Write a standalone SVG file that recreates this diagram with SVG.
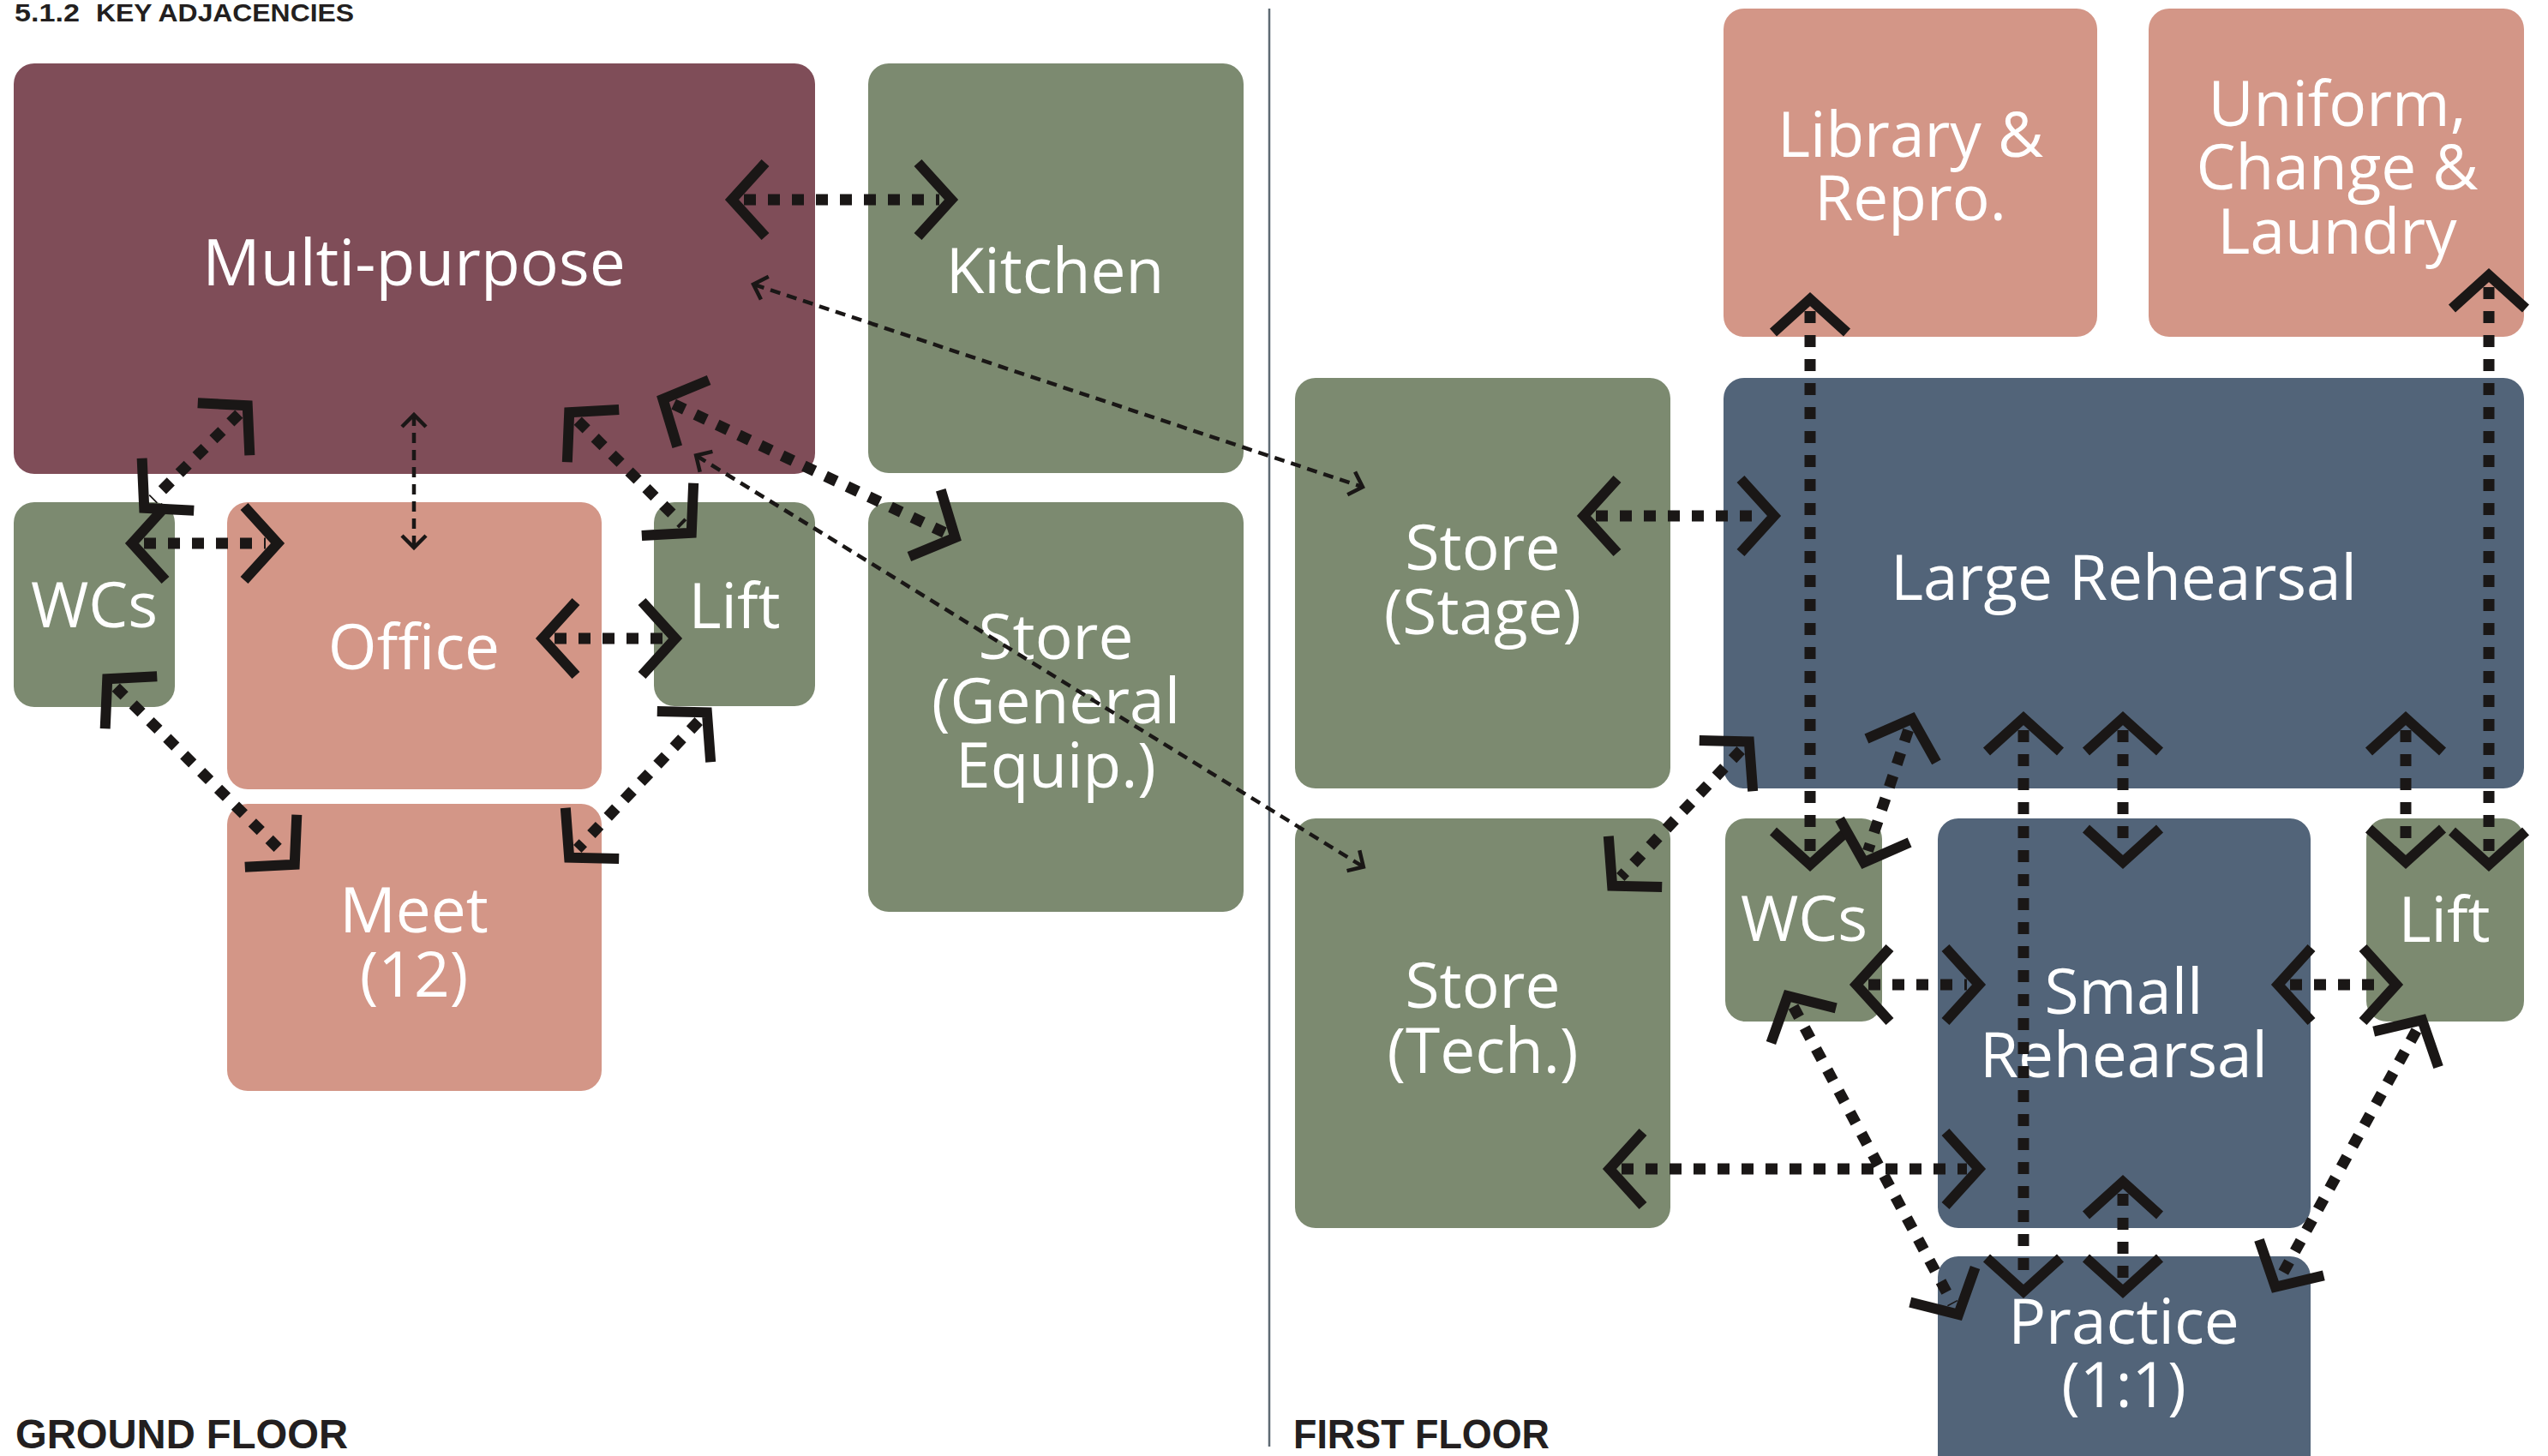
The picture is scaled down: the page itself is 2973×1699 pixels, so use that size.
<svg xmlns="http://www.w3.org/2000/svg" width="2973" height="1699" viewBox="0 0 2973 1699">
<style>
.bg{fill:#ffffff}
.maroon{fill:#7f4d58}
.green{fill:#7c8a70}
.pink{fill:#d39687}
.blue{fill:#526479}
.lbl{font-family:"Open Sans","Liberation Sans",sans-serif;font-size:73px;fill:#ffffff;text-anchor:middle}
.big{font-size:75px}
.hdr{font-family:"Liberation Sans",Arial,sans-serif;font-weight:700;fill:#231f20}
.thick{fill:none;stroke:#1a1716;stroke-width:13;stroke-dasharray:14 14;marker-start:url(#chev);marker-end:url(#chev)}
.thin{fill:none;stroke:#1a1716;stroke-width:4.5;stroke-dasharray:12 8;marker-start:url(#chevThin);marker-end:url(#chevThin)}
</style>
<defs>
<marker id="chev" viewBox="-70 -70 140 140" markerWidth="140" markerHeight="140" refX="0" refY="0" orient="auto-start-reverse" markerUnits="userSpaceOnUse">
<path d="M -25 -43 L 14 0 L -25 43" fill="none" stroke="#1a1716" stroke-width="12" stroke-miterlimit="10"/>
</marker>
<marker id="chevThin" viewBox="-30 -30 60 60" markerWidth="60" markerHeight="60" refX="0" refY="0" orient="auto-start-reverse" markerUnits="userSpaceOnUse">
<path d="M -13 -14 L 1 0 L -13 14" fill="none" stroke="#1a1716" stroke-width="4.5" stroke-miterlimit="10"/>
</marker>
</defs>
<rect class="bg" x="0" y="0" width="2973" height="1699"/>
<text class="hdr" y="25" font-size="30"><tspan x="17" textLength="76" lengthAdjust="spacingAndGlyphs">5.1.2</tspan><tspan x="112" textLength="301" lengthAdjust="spacingAndGlyphs">KEY ADJACENCIES</tspan></text>
<line x1="1481" y1="10" x2="1481" y2="1688" stroke="#5e6a73" stroke-width="2.5"/>
<text class="hdr" x="18" y="1690" font-size="48" textLength="388" lengthAdjust="spacingAndGlyphs">GROUND FLOOR</text>
<text class="hdr" x="1509" y="1690" font-size="48" textLength="299" lengthAdjust="spacingAndGlyphs">FIRST FLOOR</text>

<g id="gf-multipurpose"><rect class="maroon" x="16" y="74" width="935" height="479" rx="24"/><text class="lbl big" x="483" y="333">Multi-purpose</text></g>
<g id="gf-kitchen"><rect class="green" x="1013" y="74" width="438" height="478" rx="24"/><text class="lbl" x="1231" y="342">Kitchen</text></g>
<g id="gf-store-general"><rect class="green" x="1013" y="586" width="438" height="478" rx="24"/><text class="lbl" x="1232" y="769"><tspan x="1232">Store</tspan><tspan x="1232" dy="75">(General</tspan><tspan x="1232" dy="75">Equip.)</tspan></text></g>
<g id="gf-wcs"><rect class="green" x="16" y="586" width="188" height="239" rx="24"/><text class="lbl" x="110" y="732">WCs</text></g>
<g id="gf-office"><rect class="pink" x="265" y="586" width="437" height="335" rx="24"/><text class="lbl" x="483" y="781">Office</text></g>
<g id="gf-lift"><rect class="green" x="763" y="586" width="188" height="238" rx="24"/><text class="lbl" x="857" y="733">Lift</text></g>
<g id="gf-meet"><rect class="pink" x="265" y="938" width="437" height="335" rx="24"/><text class="lbl" x="483" y="1088"><tspan x="483">Meet</tspan><tspan x="483" dy="75">(12)</tspan></text></g>

<g id="ff-library"><rect class="pink" x="2011" y="10" width="436" height="383" rx="24"/><text class="lbl" x="2229" y="183"><tspan x="2229">Library &amp;</tspan><tspan x="2229" dy="74">Repro.</tspan></text></g>
<g id="ff-uniform"><rect class="pink" x="2507" y="10" width="438" height="383" rx="24"/><text class="lbl" x="2727" y="147"><tspan x="2727">Uniform,</tspan><tspan x="2727" dy="74">Change &amp;</tspan><tspan x="2727" dy="75">Laundry</tspan></text></g>
<g id="ff-store-stage"><rect class="green" x="1511" y="441" width="438" height="479" rx="24"/><text class="lbl" x="1730" y="665"><tspan x="1730">Store</tspan><tspan x="1730" dy="75">(Stage)</tspan></text></g>
<g id="ff-large-rehearsal"><rect class="blue" x="2011" y="441" width="934" height="479" rx="24"/><text class="lbl" x="2478" y="700">Large Rehearsal</text></g>
<g id="ff-store-tech"><rect class="green" x="1511" y="955" width="438" height="478" rx="24"/><text class="lbl" x="1730" y="1176"><tspan x="1730">Store</tspan><tspan x="1730" dy="76">(Tech.)</tspan></text></g>
<g id="ff-wcs"><rect class="green" x="2013" y="955" width="183" height="237" rx="24"/><text class="lbl" x="2105" y="1098">WCs</text></g>
<g id="ff-small-rehearsal"><rect class="blue" x="2261" y="955" width="435" height="478" rx="24"/><text class="lbl" x="2478" y="1183"><tspan x="2478">Small</tspan><tspan x="2478" dy="74">Rehearsal</tspan></text></g>
<g id="ff-lift"><rect class="green" x="2761" y="955" width="184" height="237" rx="24"/><text class="lbl" x="2852" y="1099">Lift</text></g>
<g id="ff-practice"><rect class="blue" x="2261" y="1466" width="435" height="270" rx="24"/><text class="lbl" x="2478" y="1568"><tspan x="2478">Practice</tspan><tspan x="2478" dy="74">(1:1)</tspan></text></g>

<g id="connectors">
<line class="thick" x1="868" y1="233" x2="1096" y2="233"/>
<line class="thick" x1="786.1" y1="471.6" x2="1101.9" y2="621.4"/>
<line class="thick" x1="278.8" y1="483.1" x2="178.2" y2="582.9"/>
<line class="thick" x1="674.2" y1="491.1" x2="796.8" y2="611.9"/>
<line class="thick" x1="168" y1="634" x2="310" y2="634"/>
<line class="thick" x1="647" y1="745" x2="774" y2="745"/>
<line class="thick" x1="135.2" y1="802.1" x2="333.8" y2="998.9"/>
<line class="thick" x1="815.2" y1="841.5" x2="673.8" y2="990.5"/>
<line class="thin" x1="880" y1="332" x2="1589" y2="568"/>
<line class="thin" x1="813" y1="532" x2="1590" y2="1011"/>
<line class="thin" x1="483" y1="485" x2="483" y2="638"/>
<line class="thick" x1="1862" y1="602" x2="2056" y2="602"/>
<line class="thick" x1="2112" y1="363" x2="2112" y2="995"/>
<line class="thick" x1="2904" y1="335" x2="2904" y2="995"/>
<line class="thick" x1="2031.2" y1="875.5" x2="1890.8" y2="1023.5"/>
<line class="thick" x1="2226.6" y1="852" x2="2179.4" y2="993"/>
<line class="thick" x1="2361" y1="852" x2="2361" y2="1493"/>
<line class="thick" x1="2477" y1="852" x2="2477" y2="992"/>
<line class="thick" x1="2807" y1="852" x2="2807" y2="992"/>
<line class="thick" x1="2180" y1="1149" x2="2295" y2="1149"/>
<line class="thick" x1="2672" y1="1149" x2="2782" y2="1149"/>
<line class="thick" x1="1892" y1="1364" x2="2295" y2="1364"/>
<line class="thick" x1="2477" y1="1393" x2="2477" y2="1493"/>
<line class="thick" x1="2092.5" y1="1174.6" x2="2278.5" y2="1521.4"/>
<line class="thick" x1="2819.4" y1="1202.5" x2="2661.6" y2="1489.5"/>
</g>
</svg>
